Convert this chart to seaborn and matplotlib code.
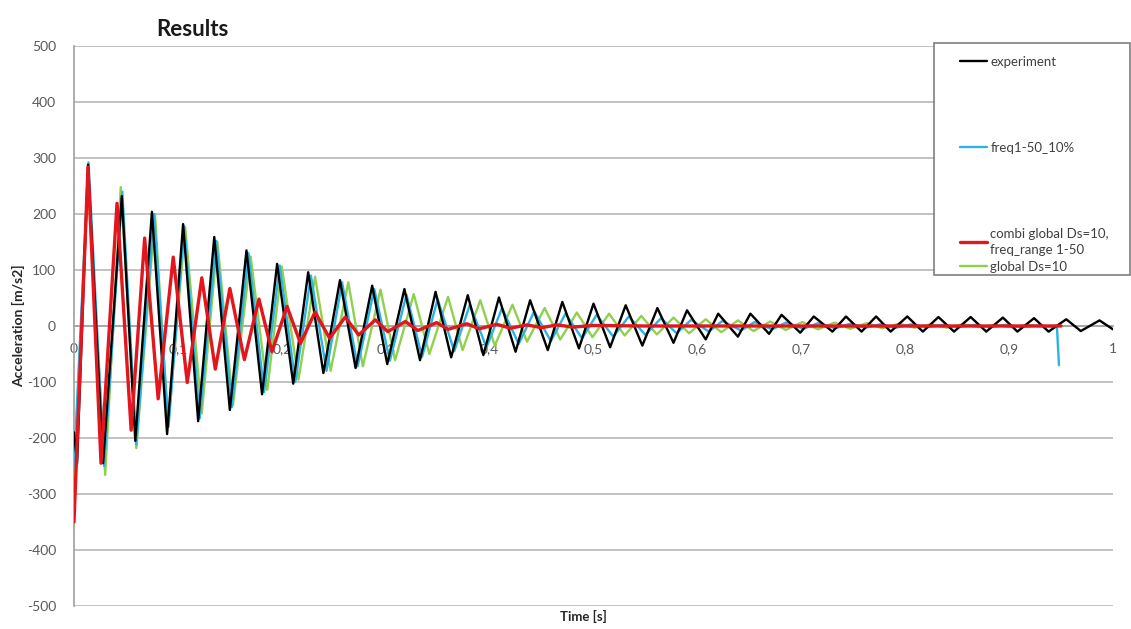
import matplotlib
matplotlib.use("Agg")
import matplotlib.pyplot as plt
from matplotlib.patches import Rectangle
import seaborn as sns
import pandas as pd

# ---------------- data ----------------
exp_t = [0, 0.003, 0.0135, 0.028, 0.046, 0.059, 0.075, 0.0896, 0.105, 0.1195,
         0.135, 0.150, 0.166, 0.181, 0.1955, 0.211, 0.2254, 0.240, 0.256, 0.271,
         0.287, 0.3015, 0.318, 0.333, 0.348, 0.363, 0.379, 0.394, 0.409, 0.425,
         0.439, 0.456, 0.470, 0.486, 0.500, 0.516, 0.531, 0.547, 0.5615, 0.577,
         0.590, 0.608, 0.620, 0.639, 0.651, 0.669, 0.681, 0.699, 0.712, 0.730,
         0.743, 0.758, 0.772, 0.786, 0.802, 0.817, 0.832, 0.847, 0.863, 0.878,
         0.894, 0.908, 0.924, 0.938, 0.955, 0.969, 0.987, 1.0]
exp_a = [-190, -245, 288, -245, 232, -205, 204, -193, 182, -170,
         159, -150, 135, -122, 111, -103, 96, -84, 82, -75,
         72, -68, 66, -61, 61, -56, 55, -52, 51, -46,
         46, -43, 43, -40, 40, -38, 37, -35, 32, -30,
         28, -24, 22, -19, 22, -14, 20, -12, 17, -10,
         17, -10, 17, -10, 17, -10, 16, -10, 16, -10,
         15, -10, 14, -10, 12, -9, 10, -6]

freq_t = [0, 0.014, 0.029, 0.0465, 0.060, 0.077, 0.091, 0.106, 0.121, 0.137,
          0.152, 0.168, 0.183, 0.198, 0.213, 0.228, 0.243, 0.258, 0.273, 0.289,
          0.304, 0.320, 0.335, 0.350, 0.366, 0.381, 0.397, 0.412, 0.428, 0.443,
          0.459, 0.473, 0.489, 0.503, 0.519, 0.534, 0.550, 0.565, 0.580, 0.594,
          0.611, 0.624, 0.642, 0.655, 0.672, 0.685, 0.702, 0.716, 0.733, 0.747,
          0.762, 0.776, 0.791, 0.806, 0.821, 0.836, 0.851, 0.867, 0.882, 0.897,
          0.912, 0.928, 0.943, 0.946, 0.948]
freq_a = [-250, 292, -250, 240, -212, 200, -180, 178, -165, 152,
          -145, 130, -118, 108, -100, 90, -80, 78, -72, 66,
          -62, 56, -55, 48, -45, 38, -38, 32, -32, 26,
          -27, 22, -22, 20, -19, 17, -16, 14, -13, 11,
          -10, 9, -8, 7, -6, 6, -5, 5, -4, 4,
          -3, 3, -3, 3, -2, 2, -2, 2, -2, 2,
          -2, 1, -1, 0, -70]

combi_t = [0, 0.0135, 0.026, 0.0414, 0.055, 0.068, 0.081, 0.0955, 0.109, 0.123,
           0.136, 0.150, 0.164, 0.178, 0.1905, 0.205, 0.218, 0.232, 0.246, 0.261,
           0.274, 0.290, 0.302, 0.319, 0.331, 0.349, 0.360, 0.378, 0.390, 0.407,
           0.420, 0.436, 0.450, 0.465, 0.480, 0.50, 0.55, 0.95]
combi_a = [-350, 284, -245, 219, -186, 157, -130, 123, -101, 86,
           -77, 67, -60, 48, -46, 35, -31, 25, -22, 16,
           -16, 11, -10, 8, -8, 6, -6, 4, -5, 3,
           -4, 2, -3, 2, -2, 1, 0, 0]

glob_t = [0, 0.0135, 0.030, 0.045, 0.060, 0.078, 0.0905, 0.107, 0.123, 0.138,
          0.153, 0.170, 0.186, 0.200, 0.216, 0.232, 0.247, 0.264, 0.278, 0.295,
          0.309, 0.327, 0.342, 0.360, 0.374, 0.391, 0.405, 0.422, 0.436, 0.453,
          0.468, 0.484, 0.499, 0.515, 0.530, 0.546, 0.561, 0.577, 0.592, 0.608,
          0.623, 0.639, 0.654, 0.670, 0.685, 0.701, 0.716, 0.732, 0.747, 0.763,
          0.778, 0.794, 0.809, 0.825, 0.840, 0.856, 0.871, 0.887, 0.902, 0.918,
          0.933, 0.949]
glob_a = [-265, 255, -266, 248, -218, 198, -180, 176, -156, 150,
          -141, 124, -114, 106, -96, 88, -80, 78, -72, 65,
          -61, 57, -50, 52, -43, 46, -35, 38, -28, 32,
          -24, 24, -20, 22, -17, 18, -15, 15, -13, 12,
          -11, 10, -9, 8, -7, 7, -6, 6, -5, 5,
          -4, 4, -3, 3, -3, 3, -2, 2, -2, 2,
          -1, 1]

series_names = ["experiment", "freq1-50_10%", "combi global Ds=10,\nfreq_range 1-50", "global Ds=10"]
x_ticks = [0, 0.1, 0.2, 0.3, 0.4, 0.5, 0.6, 0.7, 0.8, 0.9, 1.0]
x_tick_labels = ["0", "0,1", "0,2", "0,3", "0,4", "0,5", "0,6", "0,7", "0,8", "0,9", "1"]
y_ticks = [-500, -400, -300, -200, -100, 0, 100, 200, 300, 400, 500]

# ---------------- figure ----------------
sns.set_theme(style="white")
plt.rcParams["font.family"] = ["Lato", "DejaVu Sans"]

W, H = 1131, 629
fig = plt.figure(figsize=(W / 100, H / 100), dpi=100)
ax = fig.add_axes([74 / W, 1 - 606 / H, (1113 - 74) / W, (606 - 46) / H])

df_exp = pd.DataFrame({"t": exp_t, "a": exp_a})
df_freq = pd.DataFrame({"t": freq_t, "a": freq_a})
df_combi = pd.DataFrame({"t": combi_t, "a": combi_a})
df_glob = pd.DataFrame({"t": glob_t, "a": glob_a})

c_exp, c_freq, c_combi, c_glob = "#000000", "#2AB4E4", "#E3161D", "#8FD14F"
common = dict(estimator=None, solid_joinstyle="round", solid_capstyle="round")

sns.lineplot(data=df_glob, x="t", y="a", ax=ax, color=c_glob, lw=1.7,
             label=series_names[3], zorder=3, **common)
sns.lineplot(data=df_freq, x="t", y="a", ax=ax, color=c_freq, lw=1.7,
             label=series_names[1], zorder=4, **common)
sns.lineplot(data=df_exp, x="t", y="a", ax=ax, color=c_exp, lw=1.7,
             label=series_names[0], zorder=5, **common)
sns.lineplot(data=df_combi, x="t", y="a", ax=ax, color=c_combi, lw=2.4,
             label=series_names[2], zorder=6, **common)

handles, labels = ax.get_legend_handles_labels()
if ax.get_legend() is not None:
    ax.get_legend().remove()
hmap = dict(zip(labels, handles))

ax.set_xlim(0, 1)
ax.set_ylim(-500, 500)
ax.set_xticks(x_ticks)
ax.set_xticklabels(x_tick_labels)
ax.set_yticks(y_ticks)
ax.set_yticklabels([str(v) for v in y_ticks])

grid_c = "#BDBDBD"
ax.yaxis.grid(True, color=grid_c, lw=1.3, zorder=0)
ax.xaxis.grid(False)
ax.set_axisbelow(True)
for s in ["top", "right"]:
    ax.spines[s].set_visible(False)
ax.spines["left"].set_color("#A6A6A6")
ax.spines["left"].set_linewidth(1.3)
ax.spines["bottom"].set_position(("data", 0))
ax.spines["bottom"].set_color("#A6A6A6")
ax.spines["bottom"].set_linewidth(1.3)

ax.tick_params(axis="x", length=0, pad=12, labelsize=10, labelcolor="#595959")
ax.tick_params(axis="y", length=0, pad=13, labelsize=10, labelcolor="#595959")

ax.set_xlabel("Time [s]", fontsize=9.5, fontweight="bold", color="#262626")
ax.set_ylabel("Acceleration [m/s2]", fontsize=10, fontweight="bold", color="#262626")
ax.xaxis.set_label_coords((583 - 74) / (1113 - 74), (606 - 610) / 560)
ax.yaxis.set_label_coords((25 - 74) / (1113 - 74), 0.5)

fig.text(192 / W, 1 - 29 / H, "Results", fontsize=16, fontweight="bold",
         ha="center", va="center", color="#1a1a1a")

# legend box
rect = Rectangle((934 / W, 1 - 275 / H), (1130 - 934) / W, (275 - 43) / H,
                 transform=fig.transFigure, facecolor="white",
                 edgecolor="#7F7F7F", lw=1.2, zorder=1)
fig.add_artist(rect)

names_a = series_names[:3]
legA = fig.legend([hmap[n] for n in names_a], names_a, loc="upper left",
                  bbox_to_anchor=(960 / W, 1 - 56 / H), bbox_transform=fig.transFigure,
                  frameon=False, borderpad=0, borderaxespad=0, fontsize=9.5,
                  handlelength=2.05, handletextpad=0.25, labelspacing=5.6)
legB = fig.legend([hmap[series_names[3]]], [series_names[3]], loc="upper left",
                  bbox_to_anchor=(960 / W, 1 - 261 / H), bbox_transform=fig.transFigure,
                  frameon=False, borderpad=0, borderaxespad=0, fontsize=9.5,
                  handlelength=2.05, handletextpad=0.25)
for lg in (legA, legB):
    lg.set_zorder(5)
    for t in lg.get_texts():
        t.set_color("#404040")
        t.set_linespacing(1.4)

fig.savefig("out.png", dpi=100, facecolor="white")
